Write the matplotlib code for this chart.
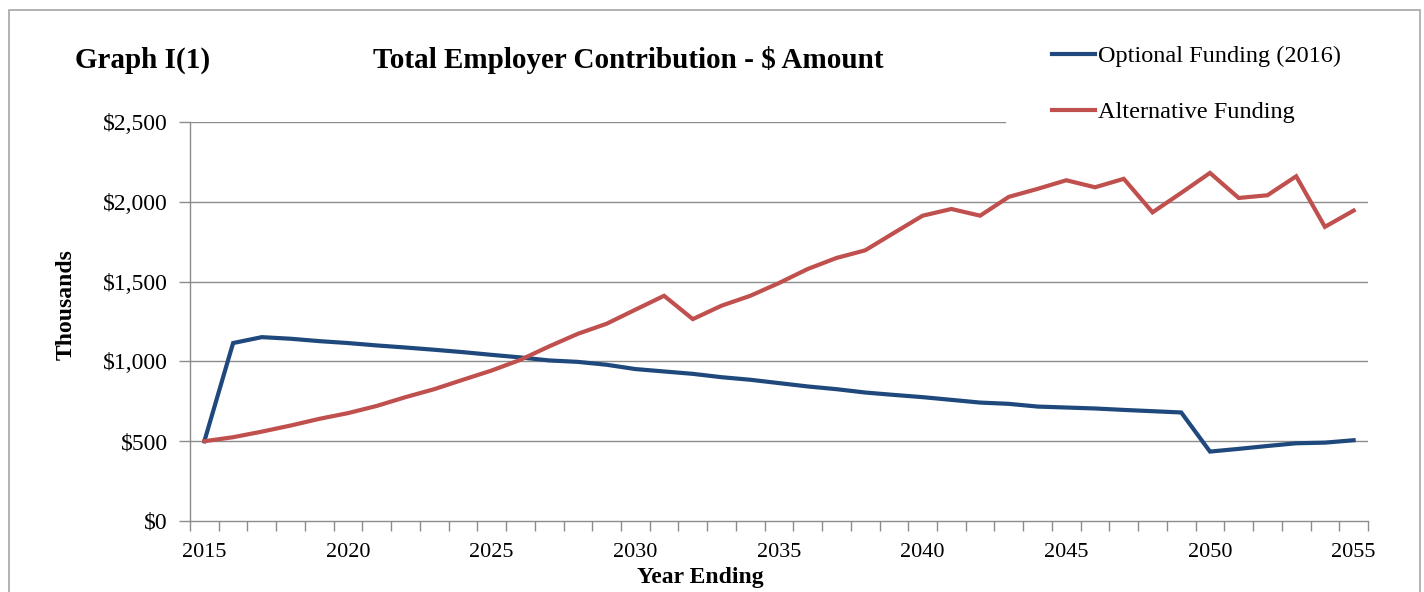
import matplotlib
matplotlib.use("Agg")
import matplotlib.pyplot as plt
from matplotlib.patches import Rectangle
from matplotlib.ticker import FixedLocator, FuncFormatter

years = list(range(2015, 2056))
optional_funding = [500, 1115, 1152, 1142, 1127, 1115, 1100, 1087, 1073, 1058,
                    1041, 1025, 1006, 997, 979, 952, 937, 922, 901, 885,
                    864, 843, 826, 805, 790, 776, 759, 742, 734, 717,
                    711, 705, 696, 688, 680, 435, 452, 470, 487, 491, 506]
alternative_funding = [500, 525, 560, 598, 640, 676, 721, 776, 826, 885,
                       943, 1010, 1094, 1173, 1236, 1324, 1411, 1265, 1349, 1411,
                       1491, 1579, 1648, 1696, 1805, 1913, 1955, 1913, 2031, 2081,
                       2135, 2091, 2144, 1934, 2056, 2181, 2024, 2041, 2160, 1843, 1945]
series_labels = ["Optional Funding (2016)", "Alternative Funding"]
y_ticks = [0, 500, 1000, 1500, 2000, 2500]
x_label_years = [2015, 2020, 2025, 2030, 2035, 2040, 2045, 2050, 2055]

plt.rcParams['font.family'] = ['Liberation Serif', 'DejaVu Serif']

W, H = 1424, 592
fig = plt.figure(figsize=(W / 100, H / 100), dpi=100)
ax = fig.add_axes([190 / W, 1 - 521 / H, (1368 - 190) / W, (521 - 122) / H])

# figure frame
fig.patches.append(Rectangle((9 / W, -0.05), (1420 - 9) / W, 1 - 10 / H + 0.05,
                             transform=fig.transFigure, fill=False,
                             edgecolor='#a6a6a6', linewidth=1.2, zorder=0))

grid_c = '#8c8c8c'
for v in y_ticks[1:]:
    xmax = (1005 - 190) / (1368 - 190) if v == 2500 else 1.0
    ax.axhline(v, xmin=0, xmax=xmax, color=grid_c, linewidth=1.0, zorder=1)

l1, = ax.plot(years, optional_funding, color='#1F497D', linewidth=3.0,
              solid_joinstyle='miter', zorder=3)
l2, = ax.plot(years, alternative_funding, color='#C0504D', linewidth=3.0,
              solid_joinstyle='miter', zorder=3)

ax.set_xlim(years[0] - 0.5, years[-1] + 0.5)
ax.set_ylim(0, 2500)

for s in ['top', 'right']:
    ax.spines[s].set_visible(False)
for s in ['left', 'bottom']:
    ax.spines[s].set_color(grid_c)
    ax.spines[s].set_linewidth(1.0)

ax.yaxis.set_major_locator(FixedLocator(y_ticks))
ax.yaxis.set_major_formatter(FuncFormatter(lambda v, p: "${:,.0f}".format(v)))
ax.tick_params(axis='y', length=8, width=1.0, color=grid_c, pad=8,
               labelsize=17, labelcolor='black')

ax.xaxis.set_major_locator(FixedLocator(x_label_years))
ax.xaxis.set_minor_locator(FixedLocator([y - 0.5 for y in years] + [years[-1] + 0.5]))
ax.tick_params(axis='x', which='major', length=0, pad=16, labelsize=16,
               labelcolor='black')
ax.tick_params(axis='x', which='minor', length=7, width=1.0, color=grid_c)

fig.text(75 / W, 1 - 60 / H, "Graph I(1)", fontsize=21, fontweight='bold',
         ha='left', va='center')
fig.text(628 / W, 1 - 60 / H, "Total Employer Contribution - $ Amount",
         fontsize=21, fontweight='bold', ha='center', va='center')
fig.text(66 / W, 1 - 305 / H, "Thousands", fontsize=17, fontweight='bold',
         rotation=90, ha='center', va='center')
fig.text(700 / W, 1 - 578 / H, "Year Ending", fontsize=17, fontweight='bold',
         ha='center', va='center')

fig.legend([l1, l2], series_labels, loc='upper left',
           bbox_to_anchor=(1052 / W, 1 - 45 / H), frameon=False,
           fontsize=17.5, handlelength=1.77, handletextpad=0.12,
           labelspacing=1.40, borderpad=0, borderaxespad=0)

fig.savefig("out.png", dpi=100)
